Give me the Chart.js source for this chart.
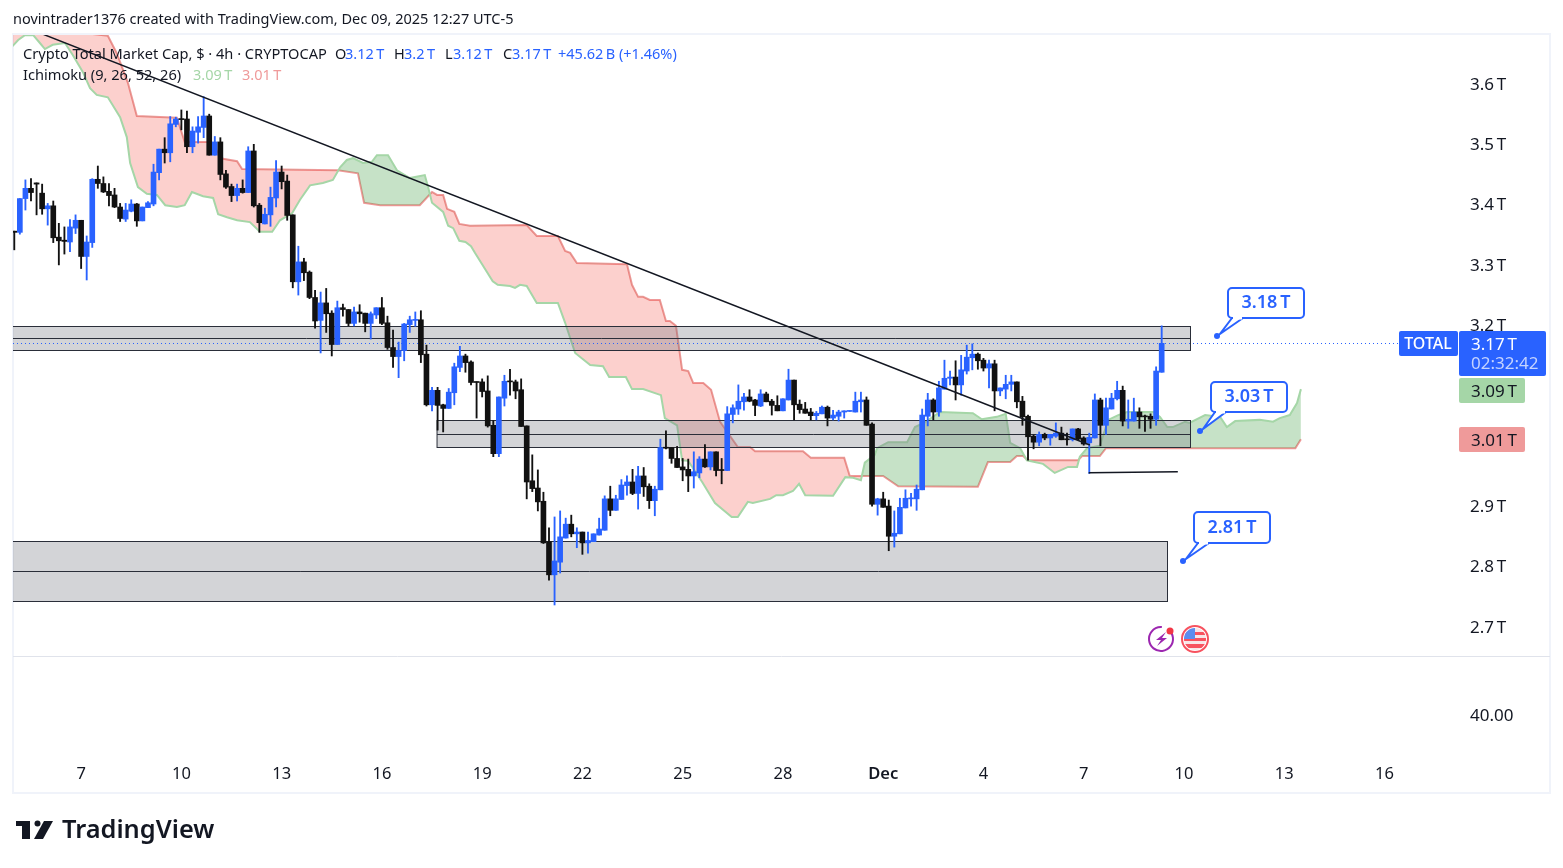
<!DOCTYPE html>
<html>
<head>
<meta charset="utf-8">
<title>Crypto Total Market Cap</title>
<script src="https://cdn.jsdelivr.net/npm/chart.js@4"></script>
<style>
  html, body { margin: 0; padding: 0; background: #fff; }
  canvas { display: block; }
</style>
</head>
<body>
<canvas id="chart" width="1563" height="868"></canvas>
<script>
// ── Datos (billones, T) ──
const opens = [
  3.356,3.354,3.410,3.427,3.436,3.419,3.393,3.398,3.346,3.341,
  3.338,3.361,3.374,3.314,3.337,3.442,3.435,3.422,3.416,3.396,
  3.376,3.389,3.401,3.373,3.395,3.401,3.453,3.492,3.486,3.533,
  3.542,3.542,3.496,3.520,3.528,3.547,3.482,3.504,3.451,3.430,
  3.415,3.427,3.420,3.489,3.399,3.368,3.383,3.411,3.454,3.439,
  3.383,3.272,3.305,3.288,3.246,3.208,3.237,3.220,3.168,3.229,
  3.226,3.203,3.222,3.220,3.203,3.217,3.229,3.204,3.163,3.148,
  3.158,3.201,3.208,3.209,3.152,3.068,3.092,3.068,3.062,3.088,
  3.130,3.149,3.139,3.106,3.106,3.091,3.034,2.987,3.079,3.107,
  3.106,3.093,3.033,2.942,2.930,2.908,2.841,2.786,2.807,2.847,
  2.870,2.854,2.857,2.839,2.841,2.852,2.860,2.912,2.893,2.911,
  2.934,2.940,2.921,2.950,2.933,2.909,2.927,2.997,2.997,2.979,
  2.965,2.961,2.950,2.955,2.978,2.965,2.990,2.960,2.959,3.052,
  3.061,3.073,3.081,3.076,3.066,3.086,3.074,3.067,3.058,3.076,
  3.109,3.069,3.061,3.056,3.050,3.053,3.064,3.046,3.049,3.056,
  3.057,3.056,3.073,3.076,3.036,2.903,2.912,2.900,2.850,2.854,
  2.897,2.912,2.912,2.927,3.049,3.076,3.056,3.094,3.112,3.114,
  3.101,3.124,3.146,3.152,3.142,3.129,3.136,3.091,3.094,3.102,
  3.106,3.074,3.049,3.016,3.006,3.019,3.013,3.016,3.021,3.011,
  3.010,3.028,3.013,3.005,3.013,3.076,3.034,3.061,3.078,3.092,
  3.041,3.041,3.056,3.049,3.049,3.044,3.122,
];
const highs = [
  3.356,3.410,3.441,3.443,3.436,3.434,3.402,3.406,3.369,3.363,
  3.375,3.383,3.374,3.348,3.443,3.464,3.446,3.435,3.427,3.402,
  3.402,3.408,3.402,3.396,3.405,3.467,3.492,3.511,3.546,3.545,
  3.557,3.555,3.529,3.546,3.579,3.550,3.513,3.511,3.457,3.434,
  3.434,3.441,3.496,3.500,3.402,3.394,3.429,3.473,3.464,3.449,
  3.383,3.331,3.311,3.290,3.258,3.255,3.261,3.224,3.240,3.235,
  3.226,3.230,3.234,3.220,3.222,3.229,3.246,3.215,3.192,3.172,
  3.203,3.215,3.222,3.224,3.167,3.097,3.097,3.069,3.095,3.137,
  3.165,3.152,3.141,3.106,3.111,3.116,3.042,3.081,3.117,3.127,
  3.109,3.111,3.033,2.985,2.960,2.923,2.864,2.882,2.892,2.880,
  2.885,2.864,2.857,2.857,2.854,2.880,2.917,2.933,2.918,2.944,
  2.950,2.961,2.966,2.964,2.937,2.933,3.011,3.025,2.997,2.999,
  2.979,2.978,2.990,2.982,3.002,2.990,2.990,2.979,3.065,3.068,
  3.101,3.087,3.093,3.077,3.093,3.089,3.077,3.083,3.078,3.127,
  3.109,3.076,3.072,3.062,3.057,3.066,3.066,3.059,3.059,3.058,
  3.058,3.089,3.089,3.081,3.038,2.913,2.923,2.910,2.892,2.913,
  2.927,2.921,2.935,3.061,3.087,3.078,3.107,3.142,3.124,3.141,
  3.150,3.167,3.169,3.154,3.145,3.142,3.142,3.096,3.117,3.117,
  3.106,3.082,3.051,3.018,3.023,3.021,3.019,3.038,3.031,3.021,
  3.028,3.029,3.015,3.021,3.086,3.079,3.079,3.087,3.107,3.099,
  3.076,3.079,3.063,3.051,3.053,3.131,3.199,
];
const lows = [
  3.325,3.351,3.391,3.406,3.383,3.384,3.366,3.337,3.300,3.318,
  3.322,3.352,3.294,3.275,3.329,3.427,3.420,3.398,3.395,3.372,
  3.372,3.388,3.364,3.373,3.395,3.398,3.441,3.469,3.471,3.529,
  3.524,3.486,3.486,3.502,3.511,3.482,3.482,3.441,3.427,3.405,
  3.406,3.419,3.420,3.396,3.354,3.368,3.364,3.396,3.426,3.374,
  3.262,3.250,3.274,3.244,3.195,3.154,3.188,3.149,3.168,3.215,
  3.199,3.199,3.205,3.189,3.177,3.211,3.201,3.160,3.130,3.113,
  3.141,3.188,3.198,3.138,3.066,3.058,3.026,3.023,3.062,3.068,
  3.123,3.122,3.101,3.046,3.081,3.031,2.982,2.982,3.066,3.084,
  3.078,3.032,2.912,2.924,2.892,2.838,2.777,2.736,2.789,2.847,
  2.849,2.831,2.820,2.822,2.841,2.852,2.860,2.884,2.893,2.911,
  2.918,2.919,2.895,2.916,2.896,2.884,2.927,2.995,2.971,2.964,
  2.942,2.924,2.930,2.947,2.964,2.960,2.950,2.937,2.959,3.038,
  3.052,3.059,3.073,3.050,3.065,3.073,3.051,3.058,3.058,3.076,
  3.043,3.054,3.054,3.043,3.043,3.053,3.033,3.043,3.041,3.046,
  3.057,3.056,3.056,3.034,2.900,2.885,2.898,2.826,2.832,2.854,
  2.897,2.900,2.893,2.927,3.033,3.043,3.049,3.094,3.101,3.076,
  3.084,3.119,3.126,3.127,3.124,3.096,3.058,3.083,3.078,3.091,
  3.063,3.034,2.976,2.995,3.000,3.010,3.001,3.014,3.010,3.001,
  3.008,3.010,3.001,2.954,3.013,3.000,3.019,3.061,3.076,3.033,
  3.029,3.041,3.029,3.024,3.029,3.034,3.122,
];
const closes = [
  3.354,3.410,3.427,3.420,3.434,3.393,3.398,3.345,3.340,3.339,
  3.363,3.374,3.314,3.338,3.442,3.435,3.421,3.415,3.396,3.377,
  3.391,3.401,3.373,3.396,3.403,3.454,3.492,3.486,3.534,3.542,
  3.541,3.496,3.522,3.529,3.547,3.482,3.504,3.450,3.429,3.415,
  3.427,3.420,3.489,3.398,3.370,3.384,3.412,3.454,3.438,3.382,
  3.272,3.305,3.287,3.246,3.207,3.237,3.219,3.168,3.229,3.226,
  3.203,3.222,3.219,3.203,3.219,3.229,3.203,3.163,3.148,3.158,
  3.202,3.209,3.209,3.151,3.068,3.092,3.067,3.062,3.089,3.131,
  3.149,3.138,3.105,3.105,3.090,3.033,2.987,3.081,3.107,3.106,
  3.091,3.032,2.940,2.929,2.907,2.839,2.786,2.809,2.849,2.870,
  2.854,2.857,2.839,2.843,2.854,2.862,2.912,2.893,2.912,2.935,
  2.940,2.921,2.950,2.932,2.909,2.928,2.997,2.996,2.979,2.964,
  2.960,2.950,2.957,2.978,2.965,2.990,2.959,2.959,3.053,3.063,
  3.074,3.081,3.074,3.067,3.086,3.073,3.067,3.058,3.078,3.109,
  3.068,3.060,3.054,3.050,3.054,3.064,3.046,3.051,3.056,3.058,
  3.058,3.074,3.076,3.034,2.903,2.912,2.898,2.850,2.855,2.898,
  2.913,2.913,2.928,3.051,3.076,3.056,3.096,3.112,3.114,3.101,
  3.126,3.147,3.152,3.141,3.129,3.136,3.091,3.096,3.102,3.106,
  3.073,3.048,3.015,3.006,3.019,3.013,3.019,3.021,3.010,3.010,
  3.028,3.011,3.003,3.014,3.076,3.034,3.063,3.079,3.092,3.041,
  3.044,3.056,3.048,3.048,3.044,3.124,3.170,
];

// Ichimoku: vértices de cada línea (índice de vela, valor)
const spanAIdx = [
  -1,0.7,1.9,3.4,4.6,5.5,6.9,9.1,10.5,12.3,13.6,14.8,16.8,19,20.2,20.8,22.2,23.8,25.6,27.1,
  29.2,30.6,31.9,33.9,35.7,36.6,38.2,40,42.3,44.1,46.3,47.7,49.9,51.3,53.1,55.4,57.2,58.5,59.7,60.8,
  62.6,64.2,65.1,67.1,68.7,71,73.7,74.3,75,77,77.9,78.8,79.9,81,82,82.7,85.9,86.8,89,89.9,
  90.8,92,93.8,97.6,98.9,100.7,103.4,105.7,106.8,109.8,110.9,112.9,116.1,116.8,119,119.9,121,123.5,125.8,128.8,
  129.9,131.7,132.6,135.7,136.8,138,139.8,140.9,142,147,149.2,150.6,152,152.7,154.5,154.9,156.9,160.3,161.7,163.5,
  166.2,172.1,173.7,176.4,178,178.8,180.6,181.8,184.7,186.8,189.2,190.8,191.3,192.6,194.9,196.4,198.2,199.8,204.5,205.7,
  207,208,210.2,211,213.8,216.5,217.7,219.2,223.6,226,227.2,229,230.3,231,
];
const spanAVal = [
  3.656,3.673,3.681,3.681,3.668,3.658,3.665,3.668,3.648,3.620,3.593,3.582,3.578,3.545,3.512,3.469,3.429,3.418,3.416,3.399,
  3.396,3.399,3.421,3.414,3.411,3.384,3.379,3.374,3.371,3.355,3.355,3.374,3.386,3.408,3.432,3.436,3.441,3.462,3.474,3.477,
  3.469,3.471,3.482,3.482,3.457,3.444,3.449,3.429,3.403,3.388,3.365,3.361,3.340,3.338,3.331,3.320,3.273,3.267,3.265,3.262,
  3.267,3.265,3.237,3.237,3.204,3.154,3.134,3.132,3.114,3.114,3.094,3.094,3.084,3.046,3.034,2.976,2.975,2.940,2.905,2.882,
  2.882,2.907,2.905,2.912,2.918,2.918,2.925,2.937,2.918,2.917,2.948,2.947,2.943,2.972,2.985,2.996,3.006,3.006,3.031,3.039,
  3.056,3.054,3.044,3.048,3.053,3.005,2.996,2.976,2.970,2.955,2.965,2.965,2.982,2.996,3.000,3.043,3.051,3.056,3.056,3.048,
  3.031,3.031,3.040,3.038,3.051,3.048,3.031,3.041,3.043,3.040,3.046,3.051,3.071,3.094,
];
const spanBIdx = [
  -1,12.7,14,16.8,18.4,20.4,22,29.2,30.6,35.1,37.5,40,40.9,58.1,61.7,62.8,65.7,72.8,75,75.9,
  77,77.7,79,79.9,81.8,92,93.8,97.6,98.9,99.8,101,110,110.9,112,112.9,114.1,115.9,117,117.7,118.8,
  119.9,121,121.9,123.7,125.1,126.7,129.9,132.1,133,141.6,143,149,150,156,158.7,173,174.8,178.8,180,181.1,
  182,191,191.7,194.9,196,230,231,
];
const spanBVal = [
  3.706,3.706,3.683,3.680,3.651,3.602,3.547,3.544,3.504,3.504,3.476,3.472,3.459,3.457,3.452,3.403,3.399,3.399,3.421,3.416,
  3.416,3.393,3.388,3.368,3.365,3.366,3.348,3.348,3.323,3.320,3.303,3.301,3.267,3.247,3.247,3.242,3.242,3.207,3.207,3.199,
  3.126,3.124,3.104,3.104,3.093,3.040,2.998,2.998,2.991,2.991,2.980,2.980,2.950,2.950,2.933,2.932,2.973,2.973,2.983,2.983,
  2.976,2.976,2.983,2.983,2.996,2.996,3.011,
];

// Líneas dibujadas a mano sobre el gráfico
const trendIdx = [5.2, 193.1];
const trendVal = [3.6824, 3.0013];
const floorIdx = [192.9, 208.9];
const floorVal = [2.9554, 2.9571];

// Etiquetas de los ejes
const dayLabels = ['7', '10', '13', '16', '19', '22', '25', '28', 'Dec', '4', '7', '10', '13', '16'];
const dayIdx = [12, 30, 48, 66, 84, 102, 120, 138, 156, 174, 192, 210, 228, 246];
const priceTicks = [3.6, 3.5, 3.4, 3.3, 3.2, 2.9, 2.8, 2.7];

// Zonas grises: índice inicial/final, valor superior, medio, inferior
const zoneStart = [-1, 75.9, -1];
const zoneEnd = [211, 211, 206.9];
const zoneTop = [3.1987, 3.0423, 2.8416];
const zoneMid = [3.1788, 3.0191, 2.7919];
const zoneBot = [3.1589, 2.9975, 2.7421];

const BLUE = '#2962ff';
const BLACK = '#111111';
const TEXT = '#131722';
const FONT = '"Noto Sans", sans-serif';
const THIN_T = '\u2009T'; // TradingView separa la T con un espacio fino

const candleColors = closes.map((c, i) => (c >= opens[i] ? BLUE : BLACK));
const toPoints = (xs, ys) => xs.map((x, i) => ({ x, y: ys[i] }));

function text(ctx, str, x, y, color, font, align) {
  ctx.font = font;
  ctx.fillStyle = color;
  ctx.textAlign = align || 'left';
  ctx.textBaseline = 'middle';
  ctx.fillText(str, x, y);
}

function roundBox(ctx, x, y, w, h, r, fill, stroke) {
  ctx.beginPath();
  ctx.roundRect(x, y, w, h, r);
  if (fill) { ctx.fillStyle = fill; ctx.fill(); }
  if (stroke) { ctx.strokeStyle = stroke; ctx.stroke(); }
}

// Zonas y línea de último precio: por encima de la nube, por debajo de las velas
const zonesPlugin = {
  id: 'zones',
  beforeDatasetDraw(chart, args) {
    if (args.index !== 2) return;
    const { ctx, scales: { x, y }, chartArea } = chart;
    ctx.save();
    ctx.beginPath();
    ctx.rect(chartArea.left, chartArea.top, chartArea.right - chartArea.left, chartArea.bottom - chartArea.top);
    ctx.clip();
    zoneTop.forEach((top, i) => {
      const x0 = x.getPixelForValue(zoneStart[i]);
      const x1 = Math.round(x.getPixelForValue(zoneEnd[i])) + 0.5;
      const y0 = Math.round(y.getPixelForValue(top)) + 0.5;
      const y1 = Math.round(y.getPixelForValue(zoneBot[i])) + 0.5;
      const ym = Math.round(y.getPixelForValue(zoneMid[i])) + 0.5;
      ctx.fillStyle = 'rgba(120,123,134,0.33)';
      ctx.fillRect(x0, y0, x1 - x0, y1 - y0);
      ctx.strokeStyle = '#2a2e39';
      ctx.lineWidth = 1;
      ctx.strokeRect(x0, y0, x1 - x0, y1 - y0);
      ctx.beginPath();
      ctx.moveTo(x0, ym);
      ctx.lineTo(x1, ym);
      ctx.stroke();
    });
    const yLast = Math.round(y.getPixelForValue(closes[closes.length - 1])) + 0.5;
    ctx.strokeStyle = BLUE;
    ctx.setLineDash([1, 3]);
    ctx.beginPath();
    ctx.moveTo(chartArea.left, yLast);
    ctx.lineTo(1399, yLast);
    ctx.stroke();
    ctx.restore();
  },
};

// Burbujas de precio con su punto
function callout(ctx, str, bx, by, bw, bh, px, py) {
  ctx.save();
  ctx.lineWidth = 2;
  ctx.beginPath();
  ctx.moveTo(bx + 4, by + bh);
  ctx.lineTo(px + 3, py - 2);
  ctx.lineTo(bx + 15, by + bh);
  ctx.fillStyle = '#fff';
  ctx.strokeStyle = BLUE;
  ctx.fill();
  ctx.stroke();
  ctx.beginPath();
  ctx.roundRect(bx, by, bw, bh, 4);
  ctx.fillStyle = '#fff';
  ctx.fill();
  ctx.stroke();
  ctx.fillStyle = '#fff';
  ctx.fillRect(bx + 5, by + bh - 1.5, 9, 3);
  ctx.beginPath();
  ctx.arc(px, py, 3, 0, Math.PI * 2);
  ctx.fillStyle = BLUE;
  ctx.fill();
  text(ctx, str, bx + bw / 2, by + bh / 2, BLUE, '600 18px ' + FONT, 'center');
  ctx.restore();
}

function eventIcons(ctx) {
  ctx.save();
  ctx.lineWidth = 2;
  ctx.strokeStyle = '#9c27b0';
  ctx.beginPath();
  ctx.arc(1161, 639, 12, -0.9, Math.PI * 2 - 1.5);
  ctx.stroke();
  ctx.fillStyle = '#9c27b0';
  ctx.beginPath();
  ctx.moveTo(1166, 632);
  ctx.lineTo(1156, 640);
  ctx.lineTo(1161, 640);
  ctx.lineTo(1157, 646);
  ctx.lineTo(1167, 638);
  ctx.lineTo(1162, 638);
  ctx.closePath();
  ctx.fill();
  ctx.fillStyle = '#f23645';
  ctx.beginPath();
  ctx.arc(1170, 631, 3.5, 0, Math.PI * 2);
  ctx.fill();

  ctx.strokeStyle = '#f7525f';
  ctx.beginPath();
  ctx.arc(1195, 639, 13, 0, Math.PI * 2);
  ctx.stroke();
  ctx.save();
  ctx.beginPath();
  ctx.arc(1195, 639, 11, 0, Math.PI * 2);
  ctx.clip();
  ctx.fillStyle = '#f7e6e8';
  ctx.fillRect(1183, 627, 24, 24);
  ctx.fillStyle = '#f7525f';
  ctx.fillRect(1183, 632, 24, 3);
  ctx.fillRect(1183, 638, 24, 3);
  ctx.fillRect(1183, 644, 24, 4);
  ctx.fillStyle = '#5b8def';
  ctx.fillRect(1183, 627, 12, 12);
  ctx.restore();
  ctx.restore();
}

function logo(ctx) {
  ctx.save();
  ctx.fillStyle = '#131722';
  ctx.fillRect(16, 821, 14, 5);
  ctx.fillRect(22, 821, 8, 18);
  ctx.beginPath();
  ctx.arc(37.5, 823.5, 3, 0, Math.PI * 2);
  ctx.fill();
  ctx.beginPath();
  ctx.moveTo(44, 821);
  ctx.lineTo(53, 821);
  ctx.lineTo(43, 839);
  ctx.lineTo(34, 839);
  ctx.closePath();
  ctx.fill();
  ctx.restore();
  text(ctx, 'TradingView', 62, 831, '#131722', '600 25.4px ' + FONT);
}

// Cabecera, leyenda, marco, etiquetas de precio y marca
const overlayPlugin = {
  id: 'overlay',
  beforeDraw(chart) {
    const { ctx } = chart;
    ctx.save();
    ctx.strokeStyle = '#f0f3fa';
    ctx.lineWidth = 2;
    ctx.strokeRect(13, 34, 1537, 759);
    ctx.strokeStyle = '#e0e3eb';
    ctx.lineWidth = 1;
    ctx.beginPath();
    ctx.moveTo(13, 656.5);
    ctx.lineTo(1550, 656.5);
    ctx.stroke();
    ctx.restore();
  },
  afterDraw(chart) {
    const { ctx } = chart;
    ctx.save();
    const f14 = '14.5px ' + FONT;
    const f15 = '14.6px ' + FONT;
    text(ctx, 'novintrader1376 created with TradingView.com, Dec 09, 2025 12:27 UTC-5', 13, 20, TEXT, f14);
    text(ctx, 'Crypto Total Market Cap, $ · 4h · CRYPTOCAP', 23, 55, TEXT, f15);
    text(ctx, 'O', 335, 55, TEXT, f14);
    text(ctx, '3.12' + THIN_T, 345, 55, BLUE, f14);
    text(ctx, 'H', 394, 55, TEXT, f14);
    text(ctx, '3.2' + THIN_T, 404, 55, BLUE, f14);
    text(ctx, 'L', 445, 55, TEXT, f14);
    text(ctx, '3.12' + THIN_T, 453, 55, BLUE, f14);
    text(ctx, 'C', 503, 55, TEXT, f14);
    text(ctx, '3.17' + THIN_T, 512, 55, BLUE, f14);
    text(ctx, '+45.62' + '\u2009B (+1.46%)', 558, 55, BLUE, f14);
    text(ctx, 'Ichimoku (9, 26, 52, 26)', 23, 76, TEXT, f15);
    text(ctx, '3.09' + THIN_T, 193, 76, '#a5d6a7', f14);
    text(ctx, '3.01' + THIN_T, 242, 76, '#ef9a9a', f14);

    callout(ctx, '3.18' + THIN_T, 1228, 288, 76, 30, 1217, 336);
    callout(ctx, '3.03' + THIN_T, 1211, 382, 76, 30, 1200, 431);
    callout(ctx, '2.81' + THIN_T, 1194, 512, 76, 31, 1183, 561);
    eventIcons(ctx);

    const f16 = '17px ' + FONT;
    roundBox(ctx, 1399, 331, 59, 25, 2, BLUE);
    text(ctx, 'TOTAL', 1428, 344, '#fff', '500 16px ' + FONT, 'center');
    roundBox(ctx, 1459, 331, 87, 45, 2, BLUE);
    text(ctx, '3.17' + THIN_T, 1471, 345, '#fff', f16);
    text(ctx, '02:32:42', 1471, 364, '#c4d3ff', f16);
    roundBox(ctx, 1459, 378, 66, 25, 2, '#a5d6a7');
    text(ctx, '3.09' + THIN_T, 1471, 392, '#131722', f16);
    roundBox(ctx, 1459, 427, 66, 25, 2, '#ef9a9a');
    text(ctx, '3.01' + THIN_T, 1471, 441, '#131722', f16);
    text(ctx, '40.00', 1470, 716, TEXT, f16);
    logo(ctx);
    ctx.restore();
  },
};

// Quita el relleno automático que las escalas reservan para sus etiquetas
function noPadding(s) {
  s.paddingLeft = 0;
  s.paddingRight = 0;
  s.paddingTop = 0;
  s.paddingBottom = 0;
}

new Chart(document.getElementById('chart').getContext('2d'), {
  type: 'bar',
  data: {
    datasets: [
      {
        type: 'line',
        label: 'Span A',
        data: toPoints(spanAIdx, spanAVal),
        borderColor: '#a5d6a7',
        borderWidth: 2,
        pointRadius: 0,
        tension: 0,
        order: 5,
        fill: { target: 1, above: 'rgba(67,160,71,0.3)', below: 'rgba(244,67,54,0.25)' },
      },
      {
        type: 'line',
        label: 'Span B',
        data: toPoints(spanBIdx, spanBVal),
        borderColor: '#ef9a9a',
        borderWidth: 2,
        pointRadius: 0,
        tension: 0,
        order: 5,
      },
      {
        label: 'Wicks',
        data: lows.map((l, i) => ({ x: i, y: [l, highs[i]] })),
        backgroundColor: candleColors,
        barThickness: 1.2,
        grouped: false,
        order: 2,
      },
      {
        label: 'Bodies',
        data: opens.map((o, i) => ({ x: i, y: [o, closes[i]] })),
        backgroundColor: candleColors,
        barThickness: 5,
        minBarLength: 1,
        grouped: false,
        order: 1,
      },
      {
        type: 'line',
        label: 'Trend',
        data: toPoints(trendIdx, trendVal),
        borderColor: TEXT,
        borderWidth: 1.5,
        pointRadius: 0,
        order: 0,
      },
      {
        type: 'line',
        label: 'Floor',
        data: toPoints(floorIdx, floorVal),
        borderColor: TEXT,
        borderWidth: 1.5,
        pointRadius: 0,
        order: 0,
      },
    ],
  },
  options: {
    responsive: false,
    animation: false,
    devicePixelRatio: 1,
    layout: { padding: { left: 13, top: 35, right: 0, bottom: 0 } },
    plugins: { legend: { display: false }, tooltip: { enabled: false } },
    scales: {
      x: {
        type: 'linear',
        offset: false,
        min: -0.23,
        max: 259.2,
        grid: { display: false, drawTicks: false },
        border: { display: false },
        afterFit: (s) => { s.height = 212; noPadding(s); },
        afterBuildTicks: (s) => { s.ticks = dayIdx.map((value) => ({ value })); },
        ticks: {
          autoSkip: false,
          maxRotation: 0,
          padding: 108,
          color: TEXT,
          font: (c) => ({ family: FONT, size: 16.5, weight: c.index === 8 ? '600' : '400' }),
          callback: (v, i) => dayLabels[i],
        },
      },
      y: {
        position: 'right',
        min: 2.6514,
        max: 3.6813,
        grid: { display: false, drawTicks: false },
        border: { display: false },
        afterFit: (s) => { s.width = 105; noPadding(s); },
        afterBuildTicks: (s) => { s.ticks = priceTicks.map((value) => ({ value })); },
        ticks: {
          padding: 12,
          labelOffset: 1,
          color: TEXT,
          font: { family: FONT, size: 17 },
          callback: (v) => v.toFixed(1) + THIN_T,
        },
      },
    },
  },
  plugins: [zonesPlugin, overlayPlugin],
});
</script>
</body>
</html>
